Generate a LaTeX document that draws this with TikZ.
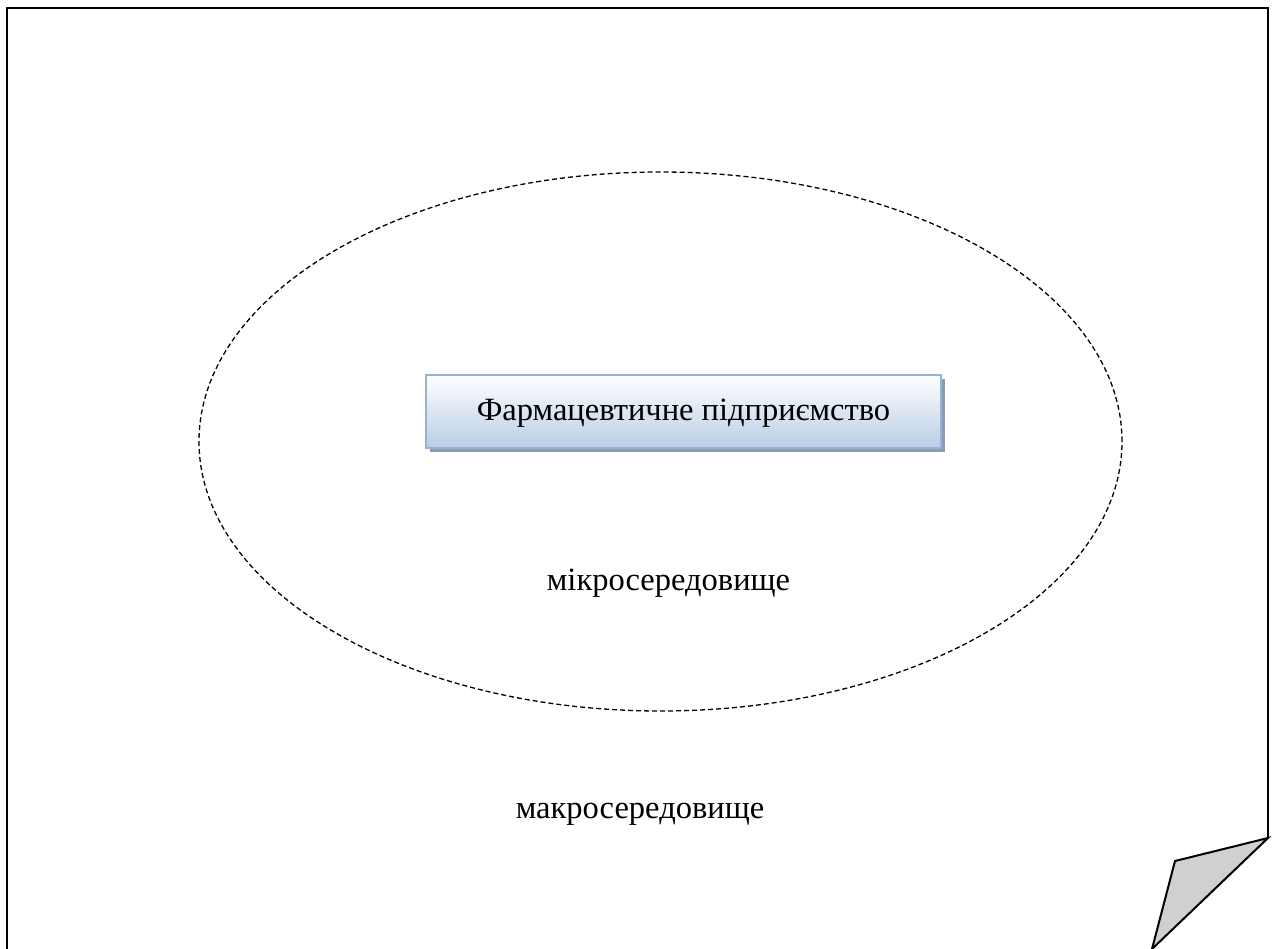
\documentclass[tikz,border=0pt]{standalone}
\usepackage{fontspec}
\setmainfont{Liberation Serif}
\usetikzlibrary{shapes.geometric,shadows}
\definecolor{boxtop}{HTML}{FFFFFF}
\definecolor{boxbot}{HTML}{B9CDE5}
\definecolor{boxedge}{HTML}{95B3D7}
\definecolor{boxshadow}{HTML}{8A9BB4}
\definecolor{foldgray}{HTML}{D0D0D0}
\tikzset{
  frameline/.style={draw=black,line width=2pt},
  microell/.style={ellipse,draw=black,line width=1.3pt,dash pattern=on 5pt off 3pt,minimum width=923pt,minimum height=539pt,inner sep=0pt},
  enterprise/.style={draw=boxedge,line width=1.5pt,top color=boxtop,bottom color=boxbot,minimum width=515pt,minimum height=73pt,inner sep=0pt,
    drop shadow={shadow xshift=4pt,shadow yshift=-4pt,fill=boxshadow,opacity=1}},
  lbl/.style={font=\fontsize{32.5}{38}\selectfont,inner sep=0pt}
}
\begin{document}
\begin{tikzpicture}[x=1pt,y=-1pt]
\useasboundingbox (0,0) rectangle (1272,949);
\fill[white] (0,0) rectangle (1272,949);
\coordinate (bl) at (7,949);
\coordinate (tl) at (7,8);
\coordinate (tr) at (1268,8);
\coordinate (fc) at (1268,838);
\coordinate (fa) at (1175,861);
\coordinate (fb) at (1152,949);
\draw[frameline] (bl) -- (tl) -- (tr) -- (fc);
\draw[frameline,fill=foldgray,line join=miter] (fc) -- (fa) -- (fb) -- cycle;
\node[microell] (micro) at (660.5,441.5) {};
\node[enterprise] (ent) at (683.5,411.5) {};
\node[lbl] (enttext) at ([yshift=-2pt]ent.center) {Фармацевтичне підприємство};
\node[lbl] (microtext) at (668.5,583) {мікросередовище};
\node[lbl] (macrotext) at (640,814) {макросередовище};
\end{tikzpicture}
\end{document}
